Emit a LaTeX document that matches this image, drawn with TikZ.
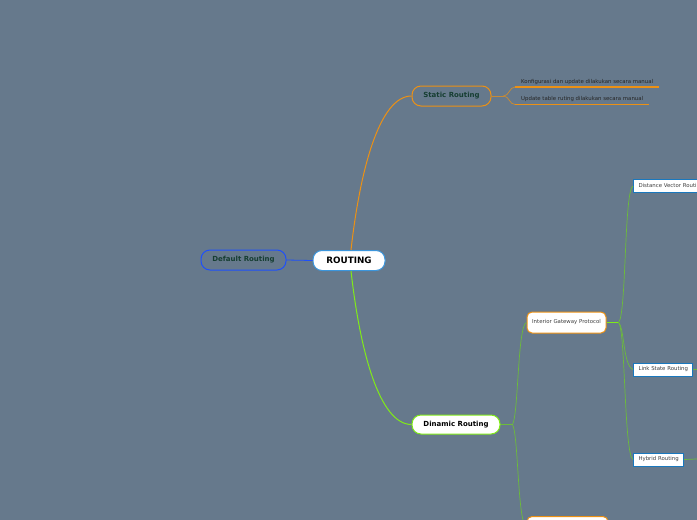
\documentclass[tikz,border=0pt]{standalone}
\usepackage{fontspec}
\setmainfont{DejaVu Sans}
\usetikzlibrary{positioning, calc}
\definecolor{slate}{RGB}{102,121,140}
\definecolor{topic orange}{RGB}{236,145,20}
\definecolor{topic green}{RGB}{128,235,24}
\definecolor{branch green}{RGB}{108,188,58}
\definecolor{root blue}{RGB}{60,150,220}
\definecolor{default blue}{RGB}{30,80,250}
\definecolor{leaf blue}{RGB}{25,120,190}
\definecolor{deep teal}{RGB}{22,62,50}
\tikzset{topic/.style={rounded corners=9pt, inner sep=0pt, line width=1pt, minimum height=20pt, font=\fontsize{7}{8}\selectfont\bfseries}}
\tikzset{subtopic/.style={rounded corners=5pt, draw=topic orange, fill=white, line width=1pt, minimum width=79pt, minimum height=21pt, inner sep=0pt, font=\fontsize{5.4}{6}\selectfont, text=black!75}}
\tikzset{leaf/.style={draw=leaf blue, fill=white, line width=1pt, minimum height=13pt, inner xsep=5pt, inner ysep=0pt, anchor=west, font=\fontsize{5.4}{6}\selectfont, text=black!75}}
\tikzset{note/.style={anchor=south west, inner xsep=6pt, inner ysep=2.5pt, font=\fontsize{5.4}{6}\selectfont, text=black!85}}
\tikzset{twig/.style={branch green, line width=0.7pt}}

\begin{document}
\begin{tikzpicture}[x=1pt, y=-1pt]
  \fill[slate] (0,0) rectangle (697,520);
  \useasboundingbox (0,0) rectangle (697,520);
  \clip (0,0) rectangle (697,520);
  % topics
  \node[topic, draw=root blue, fill=white, minimum width=72pt, font=\fontsize{8.8}{10}\selectfont\bfseries] (routing) at (349,260.5) {ROUTING};
  \node[topic, draw=default blue, minimum width=85pt, text=deep teal] (default) at (243.5,260) {Default Routing};
  \node[topic, draw=topic orange, minimum width=79pt, text=deep teal] (static) at (451.5,96) {Static Routing};
  \node[topic, draw=topic green, fill=white, minimum width=88pt, minimum height=19pt] (dinamic) at (456,424.5) {Dinamic Routing};
  % static notes
  \node[note] (konf) at (515,87) {Konfigurasi dan update dilakukan secara manual};
  \node[note] (tabel) at (515,104.5) {Update table ruting dilakukan secara manual};
  % dinamic branches
  \node[subtopic] (igp) at (566.5,322.5) {Interior Gateway Protocol};
  \node[subtopic, minimum width=81pt] (egp) at (567.5,527) {};
  \node[leaf] (dv) at (633,186) {Distance Vector Routing};
  \node[leaf] (ls) at (633,369.5) {Link State Routing};
  \node[leaf] (hybrid) at (633,459.5) {Hybrid Routing};
  \coordinate (ls end) at (720,369);
  \coordinate (hybrid end) at (720,458);

  \draw[default blue, line width=0.8pt] (default.east) -- (routing.west);
  \draw[topic orange, line width=1pt] ($(routing.north)+(2,0)$) .. controls ($(routing.north)+(11,-80)$) and ($(static.west)+(-32,0)$) .. (static.west);
  \draw[topic green, line width=1pt] ($(routing.south)+(2,0)$) .. controls ($(routing.south)+(11,80)$) and ($(dinamic.west)+(-32,0)$) .. (dinamic.west);

  \draw[topic orange!70!slate, line width=1pt] (static.east) -- ++(12,0) coordinate (sfork);
  \draw[topic orange!70!slate, line width=0.8pt] (sfork) to[out=0, in=180] (konf.south west);
  \draw[topic orange!70!slate, line width=0.8pt] (sfork) to[out=0, in=180] (tabel.south west);
  \draw[topic orange, line width=1.3pt] (konf.south west) -- (konf.south east);
  \draw[topic orange, line width=1.3pt] (tabel.south west) -- (tabel.south east);

  \draw[twig, line width=1pt] (dinamic.east) -- ++(12,0) coordinate (dfork);
  \draw[twig] (dfork) .. controls ($(dfork)+(6,-10)$) and ($(igp.west)+(-9,3)$) .. (igp.west);
  \draw[twig] (dfork) .. controls ($(dfork)+(6,10)$) and ($(egp.west)+(-9,-3)$) .. (egp.west);

  \draw[topic green, line width=1pt] (igp.east) -- ++(12,0) coordinate (ifork);
  \draw[twig] (ifork) .. controls ($(ifork)+(8,-7)$) and ($(dv.west)+(-9,4)$) .. (dv.west);
  \draw[twig] (ifork) .. controls ($(ifork)+(6,5)$) and ($(ls.west)+(-10,-4)$) .. (ls.west);
  \draw[twig] (ifork) .. controls ($(ifork)+(7,6)$) and ($(hybrid.west)+(-9,-5)$) .. (hybrid.west);
  \draw[twig] (ls.east) -- (ls end);
  \draw[twig] (hybrid.east) -- (hybrid end);
\end{tikzpicture}
\end{document}
